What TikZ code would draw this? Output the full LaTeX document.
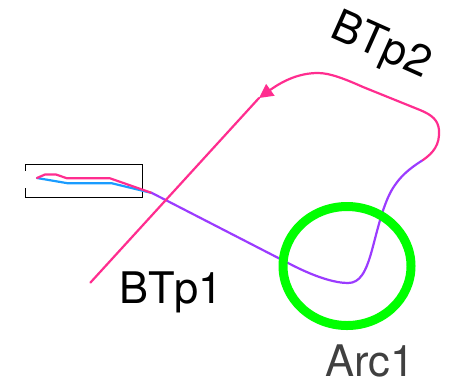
\documentclass[tikz,border=0pt]{standalone}
\usepackage{fontspec}
\setmainfont{TeX Gyre Heros}
\usetikzlibrary{arrows.meta,shapes.geometric}
\definecolor{bpink}{HTML}{FF2D8F}
\definecolor{bblue}{HTML}{1A9CFF}
\definecolor{bpurple}{HTML}{9B3BFF}
\definecolor{bgreen}{HTML}{00FF00}
\definecolor{lblgray}{HTML}{404040}
\tikzset{
  trace/.style={line width=2.2pt, line join=round, line cap=round},
  lbl/.style={inner sep=0pt, font=\fontsize{43.5}{48}\selectfont},
}
\begin{document}
\begin{tikzpicture}[x=1pt,y=-1pt]
\useasboundingbox (0,0) rectangle (454,384);
% box with open left side
\draw[line width=1pt, black] (25,170.5) -- (25,164) -- (142,164) -- (142,197) -- (25,197) -- (25,187.5);
% blue trace
\draw[trace, bblue] (37,178) -- (68,183.3) -- (112,183.3) -- (152,193);
% pink trace in box
\draw[trace, bpink] (37,178) -- (45,174.5) -- (56,174.5) -- (67,178.3) -- (110,178.3) -- (152,193);
% purple trace
\draw[trace, bpurple] (152,193) -- (290,264)
  .. controls (315,277) and (335,283) .. (348,283)
  .. controls (360,283) and (366,272) .. (372,250)
  .. controls (378,228) and (384,200) .. (395,185)
  .. controls (403,173) and (415,165) .. (423,160);
% BTp2 pink trace
\coordinate (tip) at (259,98);
\draw[trace, bpink, -{Triangle[length=14pt,width=14pt]}] (423,160)
  .. controls (433,153) and (440,145) .. (439,130)
  .. controls (438,120) and (432,115) .. (420,110)
  -- (363,87)
  .. controls (345,79) and (330,73) .. (318,73)
  .. controls (300,73) and (284,80) .. (tip);
% BTp1 line
\coordinate (p1start) at (90.5,282.5);
\draw[trace, bpink] (p1start) -- (tip);
% Arc
\node[draw=bgreen, line width=9pt, ellipse, minimum width=128pt, minimum height=119pt, inner sep=0pt] (arc) at (347,266) {};
% labels
\node[lbl, anchor=base west] (btp1) at (119,303.5) {BTp1};
\node[lbl, anchor=base west, text=lblgray] (arc1) at (325,376.5) {Arc1};
\node[lbl, anchor=base west, rotate=-24] (btp2) at (328,36) {BTp2};
\end{tikzpicture}
\end{document}
